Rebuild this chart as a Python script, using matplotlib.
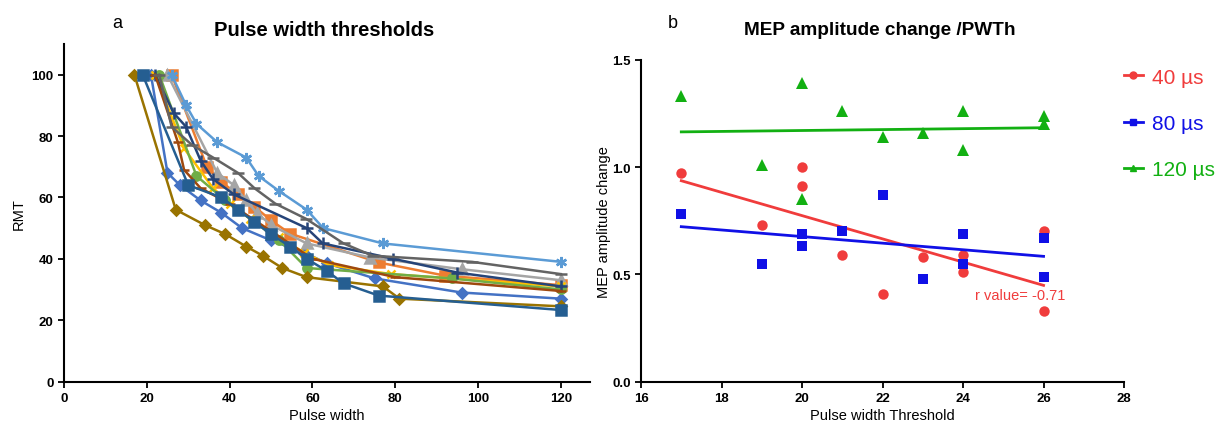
import numpy as np
import matplotlib
matplotlib.use("Agg")
import matplotlib.pyplot as plt

plt.rcParams['font.family'] = ['Liberation Sans', 'DejaVu Sans']

# panel a: pulse width thresholds, one curve per subject
blue_x = [21, 25, 28, 33, 38, 43, 50, 58, 63.5, 75, 96, 120]
blue_y = [100, 68, 64, 59, 55, 50, 46, 42, 38.5, 33.6, 29, 27]
orange_x = [26, 34.5, 38, 42, 46, 50, 54.6, 76, 92, 120]
orange_y = [100, 70, 65, 61, 57, 52.5, 48.2, 38.8, 34.5, 31.4]
gray_x = [25, 37, 41, 44, 46.5, 50, 58.6, 74, 96, 120]
gray_y = [100, 68, 64, 59, 55, 51, 45, 40.4, 36.6, 33]
gold_x = [22, 29, 36, 40, 45, 52, 58, 64, 79, 120]
gold_y = [100, 76, 63, 58, 53, 47, 42, 38, 35, 31]
lightblue_x = [26, 29.5, 32, 37, 44, 47, 52, 58.6, 62.6, 77, 120]
lightblue_y = [100, 90, 84, 78, 73, 67, 62, 56, 50, 45, 39]
green_x = [23, 32, 39, 46, 52, 58.6, 93.6, 120]
green_y = [100, 67, 59, 52, 46, 37, 33.6, 30]
navy_x = [22, 26.5, 29.5, 33, 36, 41, 58.6, 62.5, 79.5, 95, 120]
navy_y = [100, 87.5, 83, 72, 66, 61, 50, 45, 40, 35.5, 31]
brown_x = [22, 27.5, 29, 33, 40, 50, 60, 80, 120]
brown_y = [100, 78, 69, 63, 58, 49, 40, 34, 29.5]
darkgray_x = [23, 26, 31, 36, 42, 46, 51, 58.5, 67.5, 74.5, 98.5, 120]
darkgray_y = [100, 83, 77, 73, 68, 63, 58, 53, 45, 41, 39, 35]
darkgold_x = [17, 27, 34, 39, 44, 48, 52.7, 58.6, 77, 81, 120]
darkgold_y = [100, 56, 51, 48, 44, 41, 37, 34, 31, 27, 24.5]
steel_x = [19, 30, 38, 42, 46, 50, 54.6, 58.6, 63.5, 67.5, 76, 120]
steel_y = [100, 64, 60, 56, 52, 48, 44, 40, 36, 32, 28, 23.3]

# panel b: MEP amplitude change vs pulse width threshold
pwth_40 = [17, 19, 20, 20, 21, 22, 23, 24, 24, 26, 26]
mep_40 = [0.97, 0.73, 1.00, 0.91, 0.59, 0.41, 0.58, 0.59, 0.51, 0.70, 0.33]
pwth_80 = [17, 19, 20, 20, 21, 22, 23, 24, 24, 26, 26]
mep_80 = [0.78, 0.55, 0.69, 0.63, 0.70, 0.87, 0.48, 0.69, 0.55, 0.67, 0.49]
pwth_120 = [17, 19, 20, 20, 21, 22, 23, 24, 24, 26, 26]
mep_120 = [1.33, 1.01, 1.39, 0.85, 1.26, 1.14, 1.16, 1.26, 1.08, 1.24, 1.20]
r_label = "r value= -0.71"


def style_axes(ax):
    for side in ['top', 'right']:
        ax.spines[side].set_visible(False)
    for side in ['left', 'bottom']:
        ax.spines[side].set_linewidth(1.5)
    ax.tick_params(direction='out', length=4, width=1.3, labelsize=9.5)
    for lab in ax.get_xticklabels() + ax.get_yticklabels():
        lab.set_fontweight('bold')


fig = plt.figure(figsize=(12.25, 4.27), dpi=100)

# ---- panel a
ax1 = fig.add_axes([0.0522, 0.1042, 0.4294, 0.7904])
curves = [
    (blue_x, blue_y, '#4472C4', 'D', 5),
    (orange_x, orange_y, '#ED7D31', 's', 6.5),
    (gray_x, gray_y, '#A5A5A5', '^', 6.5),
    (gold_x, gold_y, '#FFC000', 'x', 6),
    (lightblue_x, lightblue_y, '#5B9BD5', (6, 2, 0), 8),
    (green_x, green_y, '#70AD47', 'o', 6),
    (navy_x, navy_y, '#264478', '+', 8),
    (brown_x, brown_y, '#9E480E', '_', 7),
    (darkgray_x, darkgray_y, '#636363', '_', 8),
    (darkgold_x, darkgold_y, '#997300', 'D', 5),
    (steel_x, steel_y, '#255E91', 's', 7.5),
]
for xs, ys, col, mk, ms in curves:
    ax1.plot(xs, ys, color=col, marker=mk, markersize=ms, linewidth=1.8,
             markeredgewidth=1.8, markeredgecolor=col)

ax1.set_xlim(0, 127)
ax1.set_ylim(0, 110)
ax1.set_xticks(np.arange(0, 121, 20))
ax1.set_yticks(np.arange(0, 101, 20))
style_axes(ax1)
ax1.set_xlabel("Pulse width", fontsize=10.5, labelpad=3)
ax1.set_ylabel("RMT", fontsize=10.5, labelpad=4)
fig.text(0.265, 0.928, "Pulse width thresholds", fontsize=14.5,
         fontweight='bold', ha='center', va='center')
fig.text(0.096, 0.945, "a", fontsize=13, ha='center', va='center')

# ---- panel b
ax2 = fig.add_axes([0.5233, 0.1037, 0.3943, 0.7541])
groups = [
    (pwth_40, mep_40, '#F03C3C', 'o', 7.5, "40 µs"),
    (pwth_80, mep_80, '#1010E6', 's', 7, "80 µs"),
    (pwth_120, mep_120, '#12B012', '^', 8, "120 µs"),
]
for xs, ys, col, mk, ms, lab in groups:
    xs = np.array(xs, dtype=float)
    ys = np.array(ys, dtype=float)
    # linear fit across the threshold range
    k, b = np.polyfit(xs, ys, 1)
    fx = np.array([xs.min(), xs.max()])
    ax2.plot(xs, ys, linestyle='none', marker=mk, markersize=ms, color=col,
             markeredgewidth=0)
    ax2.plot(fx, k * fx + b, color=col, linewidth=2)
    ax2.plot([], [], color=col, marker=mk, markersize=5, linewidth=2, label=lab)

ax2.text(24.3, 0.405, r_label, color='#F03C3C', fontsize=10.5, ha='left', va='center')
ax2.set_xlim(16, 28)
ax2.set_ylim(0, 1.5)
ax2.set_xticks(np.arange(16, 29, 2))
ax2.set_yticks([0.0, 0.5, 1.0, 1.5])
ax2.yaxis.set_major_formatter(matplotlib.ticker.FormatStrFormatter('%.1f'))
style_axes(ax2)
ax2.set_xlabel("Pulse width Threshold", fontsize=10.5, labelpad=3)
ax2.set_ylabel("MEP amplitude change", fontsize=10.5, labelpad=1)
fig.text(0.718, 0.928, "MEP amplitude change /PWTh", fontsize=13.7,
         fontweight='bold', ha='center', va='center')
fig.text(0.549, 0.945, "b", fontsize=13, ha='center', va='center')

ax2.legend(loc='upper left', bbox_to_anchor=(1.0, 0.975), frameon=False,
           fontsize=15, labelcolor='linecolor', handlelength=0.9,
           labelspacing=1.3, handletextpad=0.45, borderpad=0,
           borderaxespad=0)

fig.savefig("out.png", dpi=100)
